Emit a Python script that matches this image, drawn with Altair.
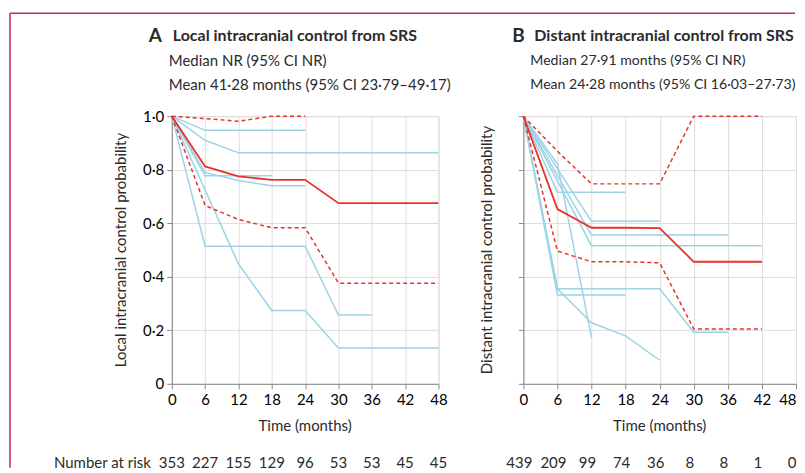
import altair as alt
import pandas as pd

RED = "#e5342b"
BLUE = "#9dd3e6"
AXIS = "#3a3a3a"
TXT = "#2b2b2b"
BORDER = "#c8285a"
FONT = "Lato"

TIMES = [0, 6, 12, 18, 24, 30, 36, 42, 48]

# ---------- Panel A: local intracranial control ----------
a_km_t = [0, 6, 12, 18, 24, 30, 36, 42, 48]
a_km_v = [1.0, 0.812, 0.775, 0.762, 0.762, 0.675, 0.675, 0.675, 0.675]
a_hi_t = [0, 6, 12, 18, 24]
a_hi_v = [1.0, 0.991, 0.981, 1.0, 1.0]
a_lo_t = [0, 6, 12, 18, 24, 30, 36, 42, 48]
a_lo_v = [1.0, 0.666, 0.614, 0.583, 0.583, 0.376, 0.376, 0.376, 0.376]
a_sub1_t = [0, 6, 12, 18, 24]
a_sub1_v = [1.0, 0.947, 0.947, 0.947, 0.947]
a_sub2_t = [0, 6, 12, 18, 24, 30, 36, 42, 48]
a_sub2_v = [1.0, 0.910, 0.863, 0.863, 0.863, 0.863, 0.863, 0.863, 0.863]
a_sub3_t = [0, 6, 12, 18]
a_sub3_v = [1.0, 0.777, 0.777, 0.777]
a_sub4_t = [0, 6, 12, 18, 24]
a_sub4_v = [1.0, 0.79, 0.760, 0.740, 0.740]
a_sub5_t = [0, 6, 12, 18, 24, 30, 36]
a_sub5_v = [1.0, 0.514, 0.514, 0.514, 0.514, 0.257, 0.257]
a_sub6_t = [0, 12, 18, 24, 30, 36, 42, 48]
a_sub6_v = [1.0, 0.448, 0.274, 0.274, 0.134, 0.134, 0.134, 0.134]
a_at_risk = ["353", "227", "155", "129", "96", "53", "53", "45", "45"]

# ---------- Panel B: distant intracranial control ----------
b_km_t = [0, 6, 12, 18, 24, 30, 36, 42]
b_km_v = [1.0, 0.653, 0.583, 0.583, 0.582, 0.456, 0.456, 0.456]
b_hi_t = [0, 6, 12, 18, 24, 30, 36, 42]
b_hi_v = [1.0, 0.869, 0.747, 0.747, 0.747, 1.0, 1.0, 1.0]
b_lo_t = [0, 6, 12, 18, 24, 30, 36, 42]
b_lo_v = [1.0, 0.496, 0.456, 0.456, 0.452, 0.205, 0.205, 0.205]
b_sub1_t = [0, 6, 12, 18]
b_sub1_v = [1.0, 0.716, 0.716, 0.716]
b_sub2_t = [0, 12, 18, 24]
b_sub2_v = [1.0, 0.607, 0.607, 0.607]
b_sub3_t = [0, 12, 18, 24, 30, 36]
b_sub3_v = [1.0, 0.556, 0.556, 0.556, 0.556, 0.556]
b_sub4_t = [0, 12, 18, 24, 30, 36, 42]
b_sub4_v = [1.0, 0.516, 0.516, 0.516, 0.516, 0.516, 0.516]
b_sub5_t = [0, 6, 12, 18, 24, 30, 36]
b_sub5_v = [1.0, 0.355, 0.355, 0.355, 0.355, 0.193, 0.193]
b_sub6_t = [0, 6, 12, 18]
b_sub6_v = [1.0, 0.332, 0.332, 0.332]
b_sub7_t = [0, 6, 12, 18, 24]
b_sub7_v = [1.0, 0.355, 0.228, 0.179, 0.088]
b_sub8_t = [0, 6, 12]
b_sub8_v = [1.0, 0.822, 0.172]
b_at_risk = ["439", "209", "99", "74", "36", "8", "8", "1", "0"]

a_letter = "A"
a_title = "Local intracranial control from SRS"
a_sub_lines = ["Median NR (95% CI NR)", "Mean 41·28 months (95% CI 23·79–49·17)"]
b_letter = "B"
b_title = "Distant intracranial control from SRS"
b_sub_lines = ["Median 27·91 months (95% CI NR)", "Mean 24·28 months (95% CI 16·03–27·73)"]
a_ytitle = "Local intracranial control probability"
b_ytitle = "Distant intracranial control probability"
x_title = "Time (months)"
risk_label = "Number at risk"


def frame(series):
    rows = []
    for name, ts, vs in series:
        for t, v in zip(ts, vs):
            rows.append({"series": name, "time": t, "p": v})
    return pd.DataFrame(rows)


W_A, W_B, H = 267, 273, 268

xs = alt.Scale(domain=[0, 48], nice=False)
ys = alt.Scale(domain=[0, 1], nice=False)


def txt(s, x, y, size=15, weight="normal", align="left", angle=0):
    return alt.Chart(pd.DataFrame({"t": [s]})).mark_text(
        font=FONT, fontSize=size, fontWeight=weight, color=TXT, align=align,
        baseline="middle", angle=angle
    ).encode(x=alt.value(x), y=alt.value(y), text="t:N")


def panel(width, km, hi, lo, subs, letter, title, sub_lines, ytitle, at_risk,
          show_ylabels, letter_dx, title_dx, ytitle_x, with_border, with_risk_label,
          sub_size, risk_dx, last_label_right):
    if last_label_right:
        lab_align = alt.condition("datum.value == 48", alt.value("right"), alt.value("center"))
    else:
        lab_align = "center"
    x_axis = alt.Axis(values=TIMES, title=None,
                      labelFont=FONT, labelFontSize=15, labelPadding=4,
                      labelOverlap=False, labelFlush=False, labelAlign=lab_align)
    y_axis = alt.Axis(values=[0, 0.2, 0.4, 0.6, 0.8, 1.0], title=None,
                      labels=show_ylabels,
                      labelExpr="datum.value == 0 ? '0' : replace(format(datum.value, '.1f'), '.', '·')",
                      labelFont=FONT, labelFontSize=15, labelPadding=3,
                      labelOverlap=False, labelFlush=False)
    base_x = alt.X("time:Q", scale=xs, axis=x_axis)
    base_y = alt.Y("p:Q", scale=ys, axis=y_axis)

    blue = alt.Chart(frame(subs)).mark_line(color=BLUE, strokeWidth=1.5).encode(
        x=base_x, y=base_y, detail="series:N")
    dashed = alt.Chart(frame([("hi", *hi), ("lo", *lo)])).mark_line(
        color=RED, strokeWidth=1.5, strokeDash=[4, 3]).encode(
        x=base_x, y=base_y, detail="series:N")
    solid = alt.Chart(frame([("km", *km)])).mark_line(color=RED, strokeWidth=1.8).encode(
        x=base_x, y=base_y)

    sub_t = alt.Chart(pd.DataFrame({"t": sub_lines, "yy": [-55, -31]})).mark_text(
        font=FONT, fontSize=sub_size, color=TXT, align="left", baseline="middle"
    ).encode(x=alt.value(title_dx - 4), y=alt.Y("yy:Q", scale=None), text="t:N")
    risk = alt.Chart(pd.DataFrame({"time": TIMES, "n": at_risk})).mark_text(
        font=FONT, fontSize=15, color=TXT, align="center", baseline="middle", dx=risk_dx
    ).encode(x=alt.X("time:Q", scale=xs, axis=x_axis), y=alt.value(347), text="n:N")

    layers = [blue, dashed, solid,
              txt(letter, letter_dx, -80, size=19, weight="bold"),
              txt(title, title_dx, -80, size=16, weight="bold"),
              sub_t, risk,
              txt(x_title, width / 2, 310, align="center"),
              txt(ytitle, ytitle_x, H / 2, align="center", angle=270)]
    if with_risk_label:
        layers.append(txt(risk_label, -21, 347, align="right"))
    if with_border:
        layers.append(alt.Chart(pd.DataFrame({"k": [0]})).mark_rule(
            color=BORDER, strokeWidth=1.5).encode(
            x=alt.value(-162), x2=alt.value(624), y=alt.value(-103)))
        layers.append(alt.Chart(pd.DataFrame({"k": [0]})).mark_rule(
            color=BORDER, strokeWidth=1.5).encode(
            x=alt.value(-162), y=alt.value(-103), y2=alt.value(352)))
    return alt.layer(*layers).properties(width=width, height=H)


panel_a = panel(W_A, (a_km_t, a_km_v), (a_hi_t, a_hi_v), (a_lo_t, a_lo_v),
                [("s1", a_sub1_t, a_sub1_v), ("s2", a_sub2_t, a_sub2_v),
                 ("s3", a_sub3_t, a_sub3_v), ("s4", a_sub4_t, a_sub4_v),
                 ("s5", a_sub5_t, a_sub5_v), ("s6", a_sub6_t, a_sub6_v)],
                a_letter, a_title, a_sub_lines, a_ytitle, a_at_risk,
                True, -23, 1, -51, True, True, 15, 0, False)
panel_b = panel(W_B, (b_km_t, b_km_v), (b_hi_t, b_hi_v), (b_lo_t, b_lo_v),
                [("s1", b_sub1_t, b_sub1_v), ("s2", b_sub2_t, b_sub2_v),
                 ("s3", b_sub3_t, b_sub3_v), ("s4", b_sub4_t, b_sub4_v),
                 ("s5", b_sub5_t, b_sub5_v), ("s6", b_sub6_t, b_sub6_v),
                 ("s7", b_sub7_t, b_sub7_v), ("s8", b_sub8_t, b_sub8_v)],
                b_letter, b_title, b_sub_lines, b_ytitle, b_at_risk,
                False, -11, 11, -36, False, False, 14.1, -4, True)

chart = alt.hconcat(panel_a, panel_b, spacing=85, bounds="flush").properties(
    padding={"left": 0, "top": 3, "right": 0, "bottom": 0}
).configure_view(stroke=None).configure_axis(
    grid=False, domainColor=AXIS, domainWidth=1.5, tickColor=AXIS, tickWidth=1.5,
    tickSize=6, labelColor=TXT, titleColor=TXT, labelOverlap=False
).configure(background="white")

chart.save("out.html", embed_options={"renderer": "svg", "actions": False})
